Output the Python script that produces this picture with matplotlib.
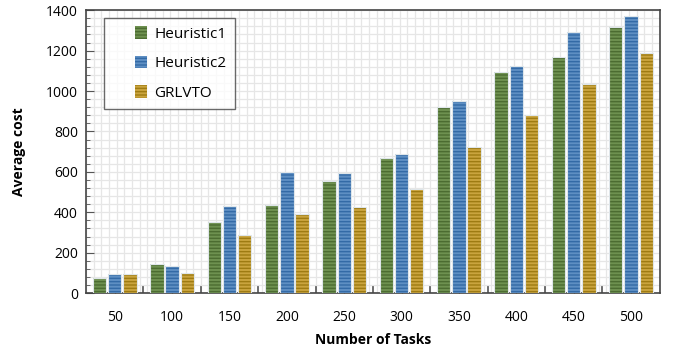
import matplotlib
matplotlib.use("Agg")
import matplotlib.pyplot as plt
import numpy as np
from matplotlib.ticker import MultipleLocator, FixedLocator, NullFormatter
from matplotlib.patches import Patch, Rectangle
from matplotlib.legend_handler import HandlerPatch

categories = ["50", "100", "150", "200", "250", "300", "350", "400", "450", "500"]
heuristic1 = [75, 143, 350, 435, 555, 667, 922, 1096, 1170, 1316]
heuristic2 = [95, 135, 430, 600, 595, 690, 950, 1124, 1294, 1369]
grlvto = [95, 100, 285, 390, 425, 515, 725, 879, 1033, 1190]
series_names = ["Heuristic1", "Heuristic2", "GRLVTO"]

plt.rcParams['font.family'] = ['Open Sans', 'DejaVu Sans']
plt.rcParams['hatch.linewidth'] = 1.0

fig = plt.figure(figsize=(6.78, 3.51), dpi=100)
ax = fig.add_axes([0.127, 0.165, 0.846, 0.806])

face = ["#6e9150", "#5e8fc3", "#caa43e"]
line = ["#4c6c31", "#336aa6", "#9e7b12"]
x = np.arange(len(categories))
w = 0.232
offs = [-0.265, 0, 0.265]
data = [heuristic1, heuristic2, grlvto]
for i, vals in enumerate(data):
    ax.bar(x + offs[i], vals, w, color=face[i], edgecolor=line[i], hatch='-----', linewidth=0, zorder=3)
    ax.bar(x + offs[i], vals, w, fill=False, edgecolor="#dfe6ea", linewidth=0.8, zorder=4)

n = len(categories)
ax.set_xlim(-0.5, n - 0.5)
ax.set_ylim(0, 1400)
ax.yaxis.set_major_locator(MultipleLocator(200))
ax.yaxis.set_minor_locator(MultipleLocator(40))
ax.set_xticks(x)
ax.set_xticklabels(categories)
ax.xaxis.set_minor_locator(FixedLocator(np.arange(0.5, n - 0.5, 1.0)))
ax.xaxis.set_minor_formatter(NullFormatter())

# background grid
ax.grid(which='both', axis='y', color="#e6e6e6", linewidth=0.9, zorder=0)
ax.vlines(np.arange(-0.5, n - 0.5, 1 / 7.5), 0, 1400, colors="#e6e6e6", linewidth=0.9, zorder=0)
ax.set_axisbelow(True)

ax.tick_params(axis='y', which='major', direction='in', length=6, color="#555555", labelsize=10, pad=6)
ax.tick_params(axis='y', which='minor', direction='in', length=3, color="#555555")
ax.tick_params(axis='x', which='major', direction='in', length=3, color="#555555", labelsize=10, pad=12)
ax.tick_params(axis='x', which='minor', direction='in', length=5, color="#555555", width=1.2)
for s in ax.spines.values():
    s.set_color("#444444")
    s.set_linewidth(1.2)

ax.set_xlabel("Number of Tasks", fontsize=10, fontweight='bold', labelpad=6)
ax.set_ylabel("Average cost", fontsize=10, fontweight='bold', labelpad=14)


def square(legend, orig_handle, xdescent, ydescent, width, height, fontsize):
    s = 9
    return Rectangle((width - s - xdescent, (height - s) / 2 - ydescent), s, s)


handles = [Patch(facecolor=face[i], edgecolor=line[i], hatch='-----', linewidth=0) for i in range(3)]
leg = ax.legend(handles, series_names, loc='upper left', bbox_to_anchor=(0.031, 0.972), fontsize=11,
                frameon=True, fancybox=False, handlelength=2.3, handleheight=0.8, labelspacing=0.95,
                borderpad=0.55, handletextpad=0.45, borderaxespad=0,
                handler_map={Patch: HandlerPatch(patch_func=square)})
leg.get_frame().set_edgecolor("#444444")
leg.get_frame().set_linewidth(1.0)
leg.set_zorder(10)

fig.savefig("out.png", dpi=100)
